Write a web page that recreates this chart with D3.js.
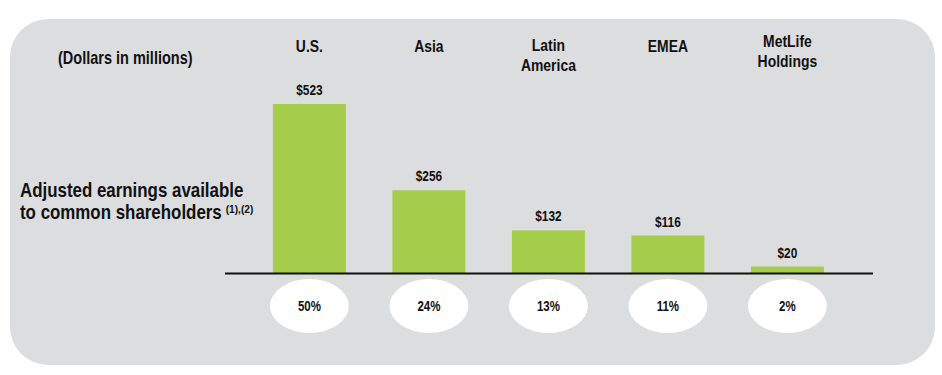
<!DOCTYPE html>
<html><head><meta charset="utf-8">
<script src="https://cdn.jsdelivr.net/npm/d3@7"></script>
<style>
body{margin:0;background:#fff;}
text{font-family:"Liberation Sans",Arial,sans-serif;font-weight:bold;fill:#111;}
</style></head>
<body>
<svg id="c" width="942" height="375"></svg>
<script>
const categories = [["U.S."], ["Asia"], ["Latin", "America"], ["EMEA"], ["MetLife", "Holdings"]];
const values = [523, 256, 132, 116, 20];
const valueLabels = ["$523", "$256", "$132", "$116", "$20"];
const shares = ["50%", "24%", "13%", "11%", "2%"];
const unitsLabel = "(Dollars in millions)";
const rowLabel = ["Adjusted earnings available", "to common shareholders"];
const rowNote = "(1),(2)";

const NARROW = 0.82;
const svg = d3.select("#c");

function label(x, y, str, size, anchor, sx) {
  const g = svg.append("g").attr("transform", `translate(${x},${y}) scale(${sx||NARROW},1)`);
  const t = g.append("text").attr("font-size", size).attr("text-anchor", anchor || "start").text(str);
  return t;
}

svg.append("rect").attr("x",10).attr("y",19).attr("width",925).attr("height",346)
  .attr("rx",38).attr("ry",38).attr("fill","#dcdddf");

const x = d3.scaleBand().domain(d3.range(values.length)).range([226.4,870.4]).paddingInner(0.389).paddingOuter(0.389);
const y = d3.scaleLinear().domain([0,523]).range([273,104]);
const cx = i => x(i) + x.bandwidth()/2;

label(58, 63.5, unitsLabel, 17.7);

const RS = 0.845;
label(20, 197.3, rowLabel[0], 20, "start", RS);
const l2 = label(20, 219.2, rowLabel[1], 20, "start", RS);
const w2 = l2.node().getComputedTextLength() * RS;
label(20 + w2 + 4, 213, rowNote, 11.5, "start", 0.88);

// category labels
categories.forEach((lines,i)=>{
  const startY = lines.length===1 ? 51.7 : (i===4 ? 46.7 : 50.7);
  lines.forEach((l,j)=>label(cx(i), startY + j*20, l, 17, "middle"));
});

svg.selectAll("rect.bar").data(values).join("rect").attr("class","bar")
  .attr("x",(d,i)=>x(i)).attr("width",x.bandwidth())
  .attr("y",d=>y(d)).attr("height",d=>y(0)-y(d)).attr("fill","#a5cd4b");

values.forEach((d,i)=>label(cx(i), y(d)-9, valueLabels[i], 14.5, "middle"));

svg.append("line").attr("x1",225).attr("x2",873).attr("y1",y(0)+0.5).attr("y2",y(0)+0.5)
  .attr("stroke","#111").attr("stroke-width",2);

svg.selectAll("ellipse.sh").data(shares).join("ellipse").attr("class","sh")
  .attr("cx",(d,i)=>cx(i)).attr("cy",306).attr("rx",39.5).attr("ry",27).attr("fill","#fff");
shares.forEach((s,i)=>label(cx(i), 311, s, 14, "middle"));
</script>
</body></html>
